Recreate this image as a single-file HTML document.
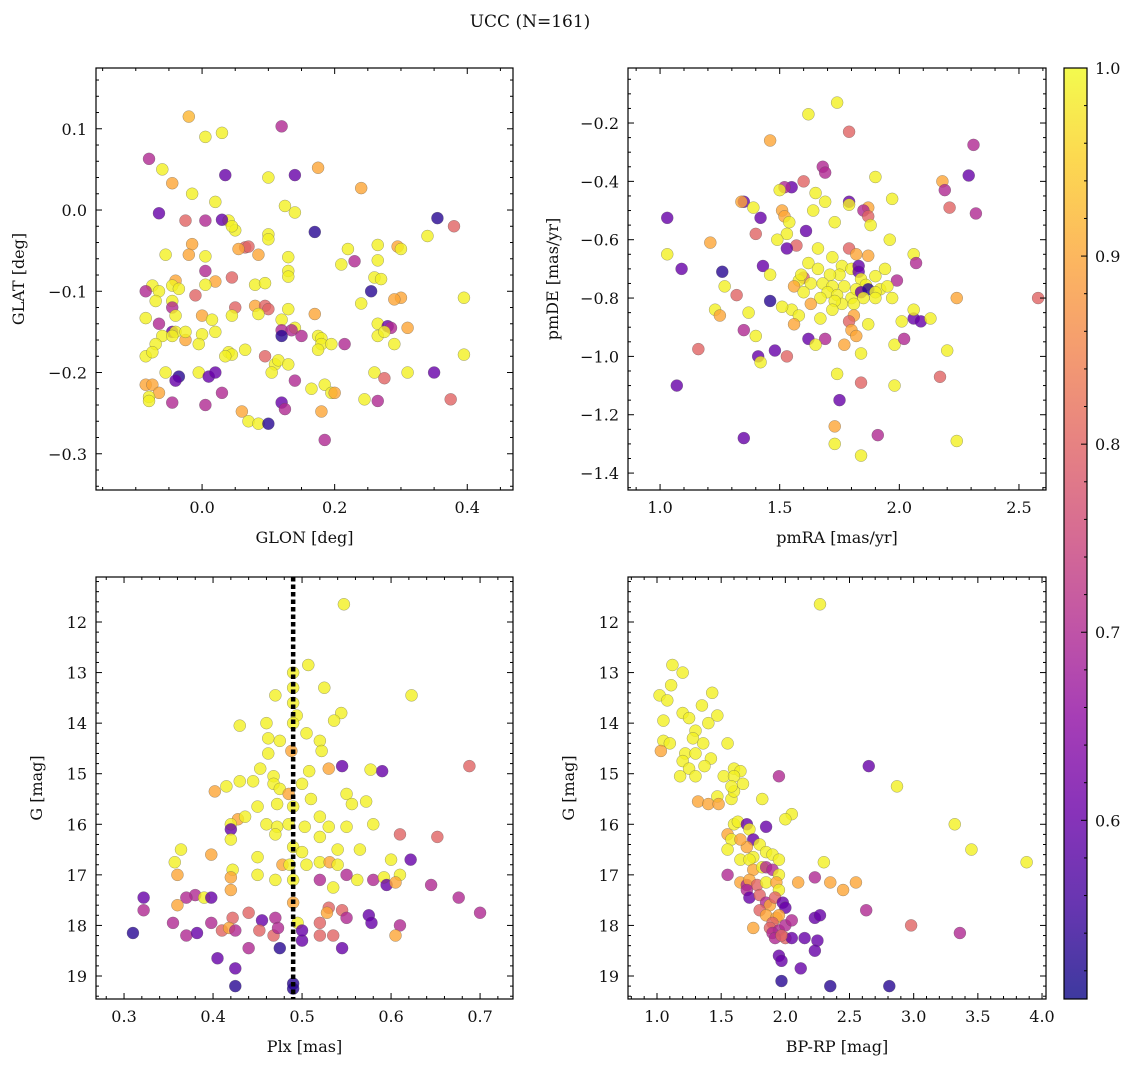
<!DOCTYPE html>
<html><head><meta charset="utf-8">
<style>
body{margin:0;background:#fff;}
svg text{font-family:"DejaVu Serif","Liberation Serif",serif;fill:#111;}
</style></head>
<body>
<svg id="chart" width="1136" height="1067" xmlns="http://www.w3.org/2000/svg">
<text x="530" y="27" font-size="17" text-anchor="middle">UCC (N=161)</text>
</svg>
<script>
// ---- Panel 1: GLON vs GLAT ----
const glon=[-0.02,0.005,0.03,0.12,-0.08,-0.06,0.035,0.14,0.175,-0.045,-0.015,0.1,0.24,0.02,-0.065,0.125,0.14,0.04,0.03,0.005,-0.025,0.05,0.045,0.355,0.38,0.17,0.1,0.1,0.34,0.22,0.265,0.295,0.3,-0.015,0.065,0.07,0.055,0.085,-0.055,-0.02,0.005,0.13,0.265,0.23,0.21,0.005,0.045,0.13,0.13,0.02,-0.04,0.08,0.26,0.27,-0.075,-0.045,0.005,0.095,-0.085,-0.065,-0.035,-0.01,0.255,0.3,0.29,0.395,0.24,-0.07,-0.045,-0.045,0.05,0.08,0.095,0.1,0.13,0.17,0.085,0.045,0.0,-0.085,-0.04,0.015,0.12,0.14,0.265,0.28,0.285,0.31,-0.065,-0.045,-0.04,0.12,0.135,0.0,-0.025,0.02,-0.06,-0.07,-0.025,0.15,0.175,0.18,0.265,0.275,0.12,-0.045,-0.005,0.18,0.195,0.175,0.215,0.29,0.065,0.04,0.045,-0.085,-0.075,0.035,0.095,0.395,0.11,0.115,0.13,0.105,0.31,0.35,0.26,-0.005,-0.055,-0.035,-0.04,0.01,0.02,0.14,0.165,0.185,0.03,-0.085,-0.075,-0.065,0.195,0.2,0.245,0.265,0.275,0.375,0.12,0.125,-0.08,-0.08,-0.045,0.005,0.06,0.07,0.085,0.1,0.18,0.185];
const glat=[0.115,0.09,0.095,0.103,0.063,0.05,0.043,0.043,0.052,0.033,0.02,0.04,0.027,0.01,-0.004,0.005,-0.003,-0.013,-0.012,-0.013,-0.013,-0.025,-0.02,-0.01,-0.02,-0.027,-0.03,-0.036,-0.032,-0.048,-0.043,-0.045,-0.048,-0.042,-0.046,-0.045,-0.048,-0.055,-0.055,-0.055,-0.057,-0.058,-0.062,-0.063,-0.067,-0.075,-0.083,-0.075,-0.082,-0.088,-0.087,-0.092,-0.083,-0.085,-0.093,-0.093,-0.092,-0.09,-0.1,-0.1,-0.097,-0.105,-0.1,-0.108,-0.11,-0.108,-0.115,-0.112,-0.112,-0.12,-0.12,-0.118,-0.118,-0.122,-0.122,-0.128,-0.128,-0.13,-0.13,-0.133,-0.13,-0.135,-0.135,-0.145,-0.14,-0.143,-0.145,-0.145,-0.14,-0.15,-0.15,-0.148,-0.148,-0.153,-0.16,-0.15,-0.155,-0.165,-0.15,-0.155,-0.155,-0.158,-0.155,-0.15,-0.155,-0.155,-0.165,-0.165,-0.165,-0.172,-0.165,-0.165,-0.172,-0.175,-0.178,-0.18,-0.175,-0.18,-0.18,-0.178,-0.19,-0.185,-0.19,-0.2,-0.2,-0.2,-0.2,-0.2,-0.2,-0.205,-0.21,-0.205,-0.2,-0.21,-0.22,-0.215,-0.225,-0.215,-0.215,-0.225,-0.225,-0.225,-0.233,-0.235,-0.207,-0.233,-0.237,-0.245,-0.23,-0.235,-0.237,-0.24,-0.248,-0.26,-0.263,-0.263,-0.248,-0.283];
const prob1=[0.92,0.99,0.99,0.7,0.7,0.99,0.6,0.6,0.9,0.9,0.99,0.99,0.9,0.99,0.6,0.99,0.99,0.99,0.6,0.7,0.8,0.99,0.99,0.53,0.8,0.53,0.99,0.99,0.99,0.99,0.99,0.9,0.99,0.9,0.8,0.8,0.9,0.9,0.99,0.9,0.99,0.99,0.99,0.7,0.99,0.7,0.8,0.99,0.99,0.9,0.9,0.99,0.99,0.99,0.99,0.99,0.99,0.99,0.7,0.99,0.99,0.8,0.53,0.9,0.9,0.99,0.99,0.99,0.99,0.7,0.8,0.9,0.8,0.8,0.99,0.9,0.99,0.99,0.9,0.99,0.99,0.99,0.99,0.99,0.99,0.6,0.7,0.9,0.7,0.6,0.99,0.7,0.7,0.99,0.9,0.99,0.99,0.99,0.99,0.7,0.99,0.99,0.99,0.99,0.53,0.99,0.99,0.99,0.99,0.99,0.7,0.99,0.99,0.99,0.99,0.99,0.99,0.99,0.8,0.99,0.99,0.99,0.99,0.99,0.99,0.6,0.99,0.99,0.99,0.53,0.6,0.6,0.6,0.7,0.99,0.99,0.7,0.9,0.9,0.9,0.99,0.9,0.99,0.7,0.8,0.8,0.6,0.7,0.99,0.99,0.7,0.7,0.9,0.99,0.99,0.53,0.9,0.7];

// ---- Panel 2: pmRA vs pmDE ----
const pmra=[1.74,1.62,1.79,2.31,1.46,1.9,2.29,2.18,2.19,1.68,1.69,1.6,1.55,1.52,1.5,1.65,1.69,1.79,1.79,1.87,1.97,2.21,2.32,1.35,1.34,1.39,1.42,1.03,1.51,1.52,1.54,1.64,1.73,1.85,1.87,1.88,1.61,1.53,1.4,1.21,1.49,1.57,1.53,1.66,1.79,1.96,1.82,1.87,1.72,1.03,1.09,1.26,1.43,1.46,1.62,1.66,1.6,1.76,1.8,1.83,1.83,1.94,1.99,2.06,2.07,1.9,1.84,1.75,1.71,1.68,1.63,1.58,1.56,1.6,1.72,1.77,1.86,1.92,1.7,1.74,1.8,1.82,1.84,1.87,1.9,1.9,1.85,1.81,1.76,1.73,1.67,1.63,1.55,1.27,1.32,1.46,1.51,1.58,1.56,1.67,1.72,1.81,1.79,1.8,1.82,1.87,2.01,2.06,2.09,2.06,1.97,1.95,2.13,2.24,2.58,1.23,1.25,1.37,1.35,1.4,1.62,1.69,1.65,1.77,1.84,1.98,2.02,2.2,1.16,1.48,1.41,1.42,1.53,1.07,1.74,1.84,1.98,2.17,1.75,1.73,1.73,1.91,2.24,1.35,1.84,1.59];
const pmde=[-0.13,-0.17,-0.23,-0.275,-0.26,-0.385,-0.38,-0.4,-0.43,-0.35,-0.37,-0.4,-0.42,-0.42,-0.43,-0.44,-0.47,-0.47,-0.48,-0.49,-0.46,-0.49,-0.51,-0.47,-0.47,-0.49,-0.525,-0.525,-0.5,-0.52,-0.54,-0.5,-0.54,-0.5,-0.52,-0.55,-0.57,-0.58,-0.58,-0.61,-0.6,-0.62,-0.63,-0.63,-0.63,-0.6,-0.65,-0.655,-0.66,-0.65,-0.7,-0.71,-0.69,-0.72,-0.68,-0.7,-0.73,-0.69,-0.7,-0.69,-0.71,-0.7,-0.74,-0.65,-0.68,-0.725,-0.735,-0.72,-0.72,-0.75,-0.75,-0.74,-0.76,-0.78,-0.76,-0.76,-0.755,-0.77,-0.78,-0.79,-0.8,-0.77,-0.78,-0.77,-0.78,-0.8,-0.8,-0.82,-0.82,-0.81,-0.8,-0.82,-0.84,-0.76,-0.79,-0.81,-0.83,-0.86,-0.89,-0.87,-0.84,-0.86,-0.88,-0.91,-0.93,-0.89,-0.88,-0.87,-0.88,-0.84,-0.8,-0.76,-0.87,-0.8,-0.8,-0.84,-0.86,-0.85,-0.91,-0.93,-0.94,-0.94,-0.96,-0.96,-0.99,-0.96,-0.94,-0.98,-0.975,-0.98,-1.0,-1.02,-1.0,-1.1,-1.06,-1.09,-1.1,-1.07,-1.15,-1.24,-1.3,-1.27,-1.29,-1.28,-1.34,-0.72];
const prob2=[0.99,0.99,0.8,0.7,0.9,0.99,0.6,0.9,0.7,0.7,0.7,0.8,0.6,0.7,0.99,0.99,0.99,0.6,0.99,0.9,0.99,0.8,0.7,0.6,0.9,0.99,0.6,0.6,0.9,0.9,0.99,0.99,0.99,0.7,0.8,0.99,0.6,0.99,0.8,0.9,0.99,0.8,0.6,0.99,0.8,0.99,0.9,0.9,0.99,0.99,0.6,0.53,0.6,0.99,0.99,0.99,0.8,0.99,0.99,0.6,0.6,0.99,0.7,0.99,0.7,0.99,0.99,0.99,0.99,0.99,0.99,0.99,0.9,0.99,0.99,0.99,0.99,0.99,0.99,0.99,0.99,0.99,0.6,0.53,0.99,0.99,0.99,0.99,0.99,0.99,0.99,0.9,0.99,0.99,0.8,0.53,0.99,0.99,0.9,0.99,0.99,0.9,0.8,0.9,0.9,0.99,0.99,0.6,0.6,0.99,0.99,0.99,0.99,0.9,0.8,0.99,0.9,0.99,0.7,0.99,0.6,0.7,0.99,0.9,0.99,0.99,0.7,0.99,0.8,0.6,0.6,0.99,0.8,0.6,0.99,0.8,0.99,0.8,0.6,0.9,0.99,0.7,0.99,0.6,0.99,0.99];

// ---- Panel 3: Plx vs G ----
const plx=[0.547,0.507,0.49,0.525,0.49,0.623,0.47,0.49,0.494,0.544,0.536,0.46,0.43,0.505,0.49,0.462,0.475,0.52,0.488,0.462,0.522,0.545,0.59,0.577,0.688,0.53,0.508,0.453,0.468,0.43,0.445,0.402,0.415,0.468,0.5,0.475,0.485,0.55,0.51,0.45,0.472,0.49,0.52,0.572,0.556,0.428,0.436,0.42,0.42,0.46,0.472,0.485,0.503,0.53,0.55,0.58,0.61,0.652,0.398,0.357,0.364,0.45,0.42,0.47,0.52,0.49,0.5,0.54,0.6,0.622,0.565,0.478,0.486,0.505,0.52,0.531,0.54,0.562,0.58,0.592,0.61,0.36,0.422,0.42,0.45,0.47,0.49,0.52,0.535,0.55,0.595,0.605,0.645,0.42,0.38,0.39,0.37,0.322,0.322,0.36,0.398,0.44,0.455,0.47,0.49,0.53,0.545,0.528,0.55,0.495,0.52,0.575,0.578,0.61,0.676,0.7,0.422,0.398,0.355,0.37,0.382,0.41,0.418,0.425,0.452,0.468,0.473,0.5,0.52,0.535,0.605,0.31,0.5,0.44,0.475,0.545,0.405,0.425,0.425,0.49,0.49];
const gmag3=[11.65,12.85,13.0,13.3,13.3,13.45,13.45,13.6,13.85,13.8,13.95,14.0,14.05,14.2,14.0,14.3,14.35,14.35,14.55,14.6,14.55,14.85,14.95,14.92,14.85,14.9,14.95,14.9,15.05,15.15,15.15,15.35,15.25,15.2,15.2,15.3,15.4,15.4,15.5,15.65,15.6,15.65,15.85,15.55,15.6,15.9,15.85,16.0,16.1,16.0,16.05,16.0,16.05,16.05,16.05,16.0,16.2,16.25,16.6,16.75,16.5,16.65,16.3,16.2,16.25,16.45,16.55,16.5,16.7,16.7,16.5,16.8,16.8,16.8,16.75,16.75,16.8,17.1,17.1,17.05,17.0,17.0,16.9,17.05,17.0,17.1,17.1,17.1,17.25,17.0,17.2,17.15,17.2,17.3,17.4,17.45,17.45,17.45,17.7,17.6,17.45,17.75,17.9,17.85,17.55,17.65,17.7,17.75,17.85,17.95,17.95,17.8,17.95,18.0,17.45,17.75,17.85,17.95,17.95,18.2,18.15,18.1,18.05,18.1,18.1,18.2,18.05,18.3,18.2,18.2,18.2,18.15,18.1,18.45,18.45,18.45,18.65,18.85,19.2,19.15,19.25];
const prob3=[0.99,0.99,0.99,0.99,0.99,0.99,0.99,0.99,0.99,0.99,0.99,0.99,0.99,0.99,0.99,0.99,0.99,0.99,0.9,0.99,0.99,0.6,0.6,0.99,0.8,0.9,0.99,0.99,0.99,0.99,0.99,0.9,0.99,0.99,0.99,0.99,0.9,0.99,0.99,0.99,0.99,0.99,0.99,0.99,0.99,0.9,0.99,0.99,0.6,0.99,0.99,0.99,0.99,0.99,0.99,0.99,0.8,0.8,0.9,0.99,0.99,0.99,0.99,0.99,0.99,0.99,0.99,0.99,0.99,0.6,0.99,0.9,0.99,0.99,0.99,0.9,0.99,0.99,0.7,0.99,0.99,0.9,0.99,0.9,0.99,0.99,0.99,0.7,0.99,0.7,0.6,0.9,0.7,0.9,0.7,0.99,0.7,0.6,0.7,0.9,0.6,0.8,0.6,0.7,0.9,0.8,0.8,0.9,0.7,0.99,0.8,0.6,0.6,0.7,0.7,0.7,0.8,0.7,0.7,0.7,0.6,0.8,0.9,0.7,0.8,0.8,0.7,0.6,0.8,0.8,0.9,0.53,0.6,0.7,0.53,0.6,0.6,0.6,0.53,0.53,0.53];

// ---- Panel 4: BP-RP vs G ----
const bprp=[2.27,1.12,1.2,1.11,1.02,1.08,1.43,1.35,1.2,1.25,1.4,1.47,1.05,1.3,1.05,1.1,1.28,1.36,1.55,1.03,1.22,1.3,1.42,1.2,1.25,1.6,1.65,1.37,1.18,1.3,1.52,1.6,1.95,2.65,2.87,1.32,1.4,1.47,1.48,1.58,1.6,1.67,1.58,1.82,2.05,2.0,3.32,3.45,3.88,1.6,1.63,1.7,1.55,1.58,1.55,1.72,1.75,1.8,1.7,1.75,1.65,1.72,1.85,1.9,1.95,2.3,1.55,1.75,1.82,1.85,1.9,1.95,1.65,1.7,1.72,1.78,1.85,1.93,1.95,2.1,2.23,2.35,2.55,1.7,1.72,1.8,1.85,1.88,1.92,1.98,2.45,2.63,2.0,1.8,1.85,1.93,1.95,1.9,1.88,1.95,2.0,2.05,2.23,2.27,2.15,2.25,2.23,2.0,2.05,1.9,1.92,1.97,1.75,2.98,3.36,1.95,1.97,2.12,1.97,2.35,2.81,1.65,1.85];
const gmag4=[11.65,12.85,13.0,13.25,13.45,13.55,13.4,13.65,13.8,13.9,14.0,13.85,13.95,14.15,14.35,14.4,14.3,14.4,14.4,14.55,14.6,14.6,14.7,14.75,14.9,14.9,14.95,14.85,15.05,15.05,15.05,15.05,15.05,14.85,15.25,15.55,15.6,15.45,15.6,15.5,15.35,15.2,15.25,15.5,15.8,15.9,16.0,16.5,16.75,16.0,15.95,16.0,16.2,16.3,16.5,16.1,16.3,16.4,16.45,16.65,16.7,16.7,16.55,16.6,16.7,16.75,17.0,16.9,16.85,16.85,16.9,17.0,17.15,17.2,17.1,17.2,17.15,17.15,17.3,17.15,17.05,17.15,17.15,17.3,17.45,17.4,17.55,17.6,17.45,17.55,17.3,17.7,17.65,17.7,17.8,17.85,17.8,17.95,18.05,18.1,18.0,17.9,17.85,17.8,18.25,18.3,18.5,18.25,18.25,18.15,18.25,18.2,18.05,18.0,18.15,18.6,18.7,18.85,19.1,19.2,19.2,16.3,16.05];
const prob4=[0.99,0.99,0.99,0.99,0.99,0.99,0.99,0.99,0.99,0.99,0.99,0.99,0.99,0.99,0.99,0.99,0.99,0.99,0.99,0.9,0.99,0.99,0.99,0.99,0.99,0.99,0.99,0.99,0.99,0.99,0.99,0.99,0.7,0.6,0.99,0.9,0.9,0.99,0.9,0.99,0.99,0.99,0.99,0.99,0.99,0.99,0.99,0.99,0.99,0.99,0.99,0.6,0.9,0.99,0.99,0.99,0.6,0.99,0.9,0.99,0.99,0.99,0.99,0.99,0.99,0.99,0.7,0.9,0.99,0.7,0.7,0.99,0.9,0.7,0.9,0.8,0.99,0.9,0.99,0.9,0.7,0.9,0.9,0.7,0.6,0.8,0.7,0.9,0.8,0.6,0.9,0.7,0.6,0.8,0.9,0.9,0.9,0.8,0.8,0.7,0.7,0.7,0.6,0.6,0.6,0.6,0.6,0.8,0.6,0.7,0.7,0.8,0.9,0.8,0.7,0.6,0.6,0.6,0.53,0.53,0.53,0.9,0.6];

const cbTicks=[0.6,0.7,0.8,0.9,1.0];
const plxLine=0.49;

const NS="http://www.w3.org/2000/svg";
const svg=document.getElementById('chart');
function el(tag,attrs,parent){const e=document.createElementNS(NS,tag);for(const k in attrs)e.setAttribute(k,attrs[k]);(parent||svg).appendChild(e);return e;}
const stops=[[0,'#0d0887'],[.1,'#41049d'],[.2,'#6a00a8'],[.3,'#8f0da4'],[.4,'#b12a90'],[.5,'#cc4778'],[.6,'#e16462'],[.7,'#f2844b'],[.8,'#fca636'],[.9,'#fcce25'],[1,'#f0f921']];
function hex(h){return [1,3,5].map(i=>parseInt(h.substr(i,2),16));}
const VMIN=0.505,VMAX=1.0;
function plasma(v){let t=(v-VMIN)/(VMAX-VMIN);t=Math.max(0,Math.min(1,t));
 for(let i=0;i<stops.length-1;i++){if(t<=stops[i+1][0]){const f=(t-stops[i][0])/(stops[i+1][0]-stops[i][0]);const a=hex(stops[i][1]),b=hex(stops[i+1][1]);return 'rgb('+a.map((x,j)=>Math.round(x+(b[j]-x)*f)).join(',')+')';}}
 return stops[stops.length-1][1];}
function fmt(v,d){return (v<0?'\u2212':'')+Math.abs(v).toFixed(d);}

function panel(o){
 const sx=v=>o.x0+(v-o.xmin)/(o.xmax-o.xmin)*(o.x1-o.x0);
 const sy=o.yinv?(v=>o.y0+(v-o.ymin)/(o.ymax-o.ymin)*(o.y1-o.y0)):(v=>o.y1-(v-o.ymin)/(o.ymax-o.ymin)*(o.y1-o.y0));
 const g=el('g',{});
 
 
 const pts=el('g',{},g);
 
 
 for(let i=0;i<o.xs.length;i++){
  const c=el('circle',{cx:sx(o.xs[i]),cy:sy(o.ys[i]),r:6,fill:plasma(o.cs[i]),'fill-opacity':0.8,stroke:'#555','stroke-width':0.4,'stroke-opacity':0.7},pts);
  
  
 }
 if(o.vline!==undefined){const l=el('line',{x1:sx(o.vline),x2:sx(o.vline),y1:o.y0,y2:o.y1,stroke:'#000','stroke-width':4.5,'stroke-dasharray':'4.5,3'},g);
  
  }
 const fr=el('rect',{x:o.x0,y:o.y0,width:o.x1-o.x0,height:o.y1-o.y0,fill:'none',stroke:'#000','stroke-width':1.2},g);
 
 
 const tk=el('g',{stroke:'#000','stroke-width':1},g);
 
 
 const eps=1e-9;
 for(let v=Math.ceil(o.xmin/o.xminor-eps)*o.xminor;v<=o.xmax+eps;v+=o.xminor){
  const X=sx(v);const major=Math.abs(v/o.xmajor-Math.round(v/o.xmajor))<1e-6;const L=major?6:3;
  el('line',{x1:X,x2:X,y1:o.y1,y2:o.y1-L},tk);el('line',{x1:X,x2:X,y1:o.y0,y2:o.y0+L},tk);
  if(major){const t=el('text',{x:X,y:o.y1+23,'font-size':16,'text-anchor':'middle'},g);t.textContent=fmt(Math.round(v/o.xmajor)*o.xmajor,o.xd);
   }
 }
 for(let v=Math.ceil(o.ymin/o.yminor-eps)*o.yminor;v<=o.ymax+eps;v+=o.yminor){
  const Y=sy(v);const major=Math.abs(v/o.ymajor-Math.round(v/o.ymajor))<1e-6;const L=major?6:3;
  el('line',{x1:o.x0,x2:o.x0+L,y1:Y,y2:Y},tk);el('line',{x1:o.x1,x2:o.x1-L,y1:Y,y2:Y},tk);
  if(major){const t=el('text',{x:o.x0-9,y:Y+6,'font-size':16,'text-anchor':'end'},g);t.textContent=fmt(Math.round(v/o.ymajor)*o.ymajor,o.yd);
   }
 }
 const xl=el('text',{x:(o.x0+o.x1)/2,y:o.y1+53,'font-size':16,'text-anchor':'middle'},g);xl.textContent=o.xlabel;
 
 const yl=el('text',{x:0,y:0,'font-size':16,'text-anchor':'middle',transform:`translate(${o.ylx},${(o.y0+o.y1)/2}) rotate(-90)`},g);yl.textContent=o.ylabel;
 
}

panel({name:'glon-glat-panel',x0:96,x1:513,y0:68,y1:490,xmin:-0.16,xmax:0.469,ymin:-0.3446,ymax:0.1748,xmajor:0.2,xminor:0.05,ymajor:0.1,yminor:0.02,xd:1,yd:1,xs:glon,ys:glat,cs:prob1,xlabel:'GLON [deg]',ylabel:'GLAT [deg]',ylx:24});
panel({name:'pm-panel',x0:628,x1:1046,y0:68,y1:490,xmin:0.866,xmax:2.613,ymin:-1.458,ymax:-0.0114,xmajor:0.5,xminor:0.1,ymajor:0.2,yminor:0.05,xd:1,yd:1,xs:pmra,ys:pmde,cs:prob2,xlabel:'pmRA [mas/yr]',ylabel:'pmDE [mas/yr]',ylx:558});
panel({name:'plx-g-panel',x0:96,x1:513,y0:577,y1:999,xmin:0.2685,xmax:0.737,ymin:11.11,ymax:19.455,yinv:true,xmajor:0.1,xminor:0.02,ymajor:1,yminor:0.2,xd:1,yd:0,xs:plx,ys:gmag3,cs:prob3,xlabel:'Plx [mas]',ylabel:'G [mag]',ylx:42,vline:plxLine});
panel({name:'cmd-panel',x0:628,x1:1046,y0:577,y1:999,xmin:0.774,xmax:4.031,ymin:11.11,ymax:19.455,yinv:true,xmajor:0.5,xminor:0.1,ymajor:1,yminor:0.2,xd:1,yd:0,xs:bprp,ys:gmag4,cs:prob4,xlabel:'BP-RP [mag]',ylabel:'G [mag]',ylx:574});

// colorbar
(function(){
 const x0=1064,x1=1087,y0=68,y1=999;
 const g=el('g',{});
 
 
 const defs=el('defs',{},g);
 const lg=el('linearGradient',{id:'cbg',x1:0,y1:1,x2:0,y2:0},defs);
 stops.forEach(s=>el('stop',{offset:s[0],'stop-color':s[1]},lg));
 el('rect',{x:x0,y:y0,width:x1-x0,height:y1-y0,fill:'url(#cbg)','fill-opacity':0.8},g);
 el('rect',{x:x0,y:y0,width:x1-x0,height:y1-y0,fill:'none',stroke:'#000','stroke-width':1.2},g);
 const sy=v=>y1-(v-VMIN)/(VMAX-VMIN)*(y1-y0);
 for(let v=0.52;v<=1.0001;v+=0.02){const Y=sy(v);const major=Math.abs(v*10-Math.round(v*10))<1e-6;
  el('line',{x1:x1,x2:x1-(major?6:3),y1:Y,y2:Y,stroke:'#000','stroke-width':1},g);}
 cbTicks.forEach(v=>{const t=el('text',{x:x1+8,y:sy(v)+6,'font-size':16},g);t.textContent=v.toFixed(1);
  });
})();
</script>
</body></html>
